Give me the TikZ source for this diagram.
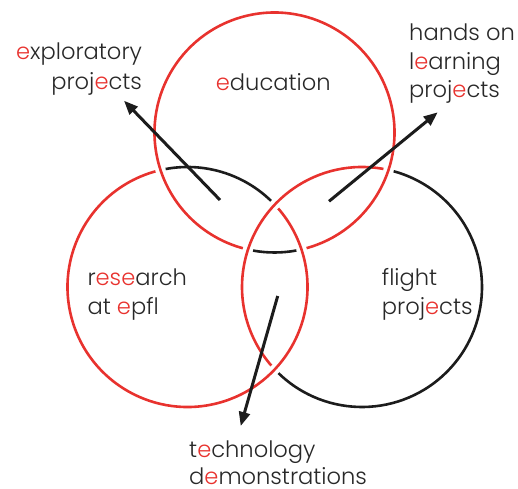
\documentclass[tikz,border=0pt]{standalone}
\usepackage{fontspec}
\setmainfont{Poppins}[UprightFont={* Light}]
\usetikzlibrary{arrows.meta}

\definecolor{ringred}{RGB}{232,50,46}
\definecolor{ringblack}{RGB}{28,28,28}
\definecolor{inkgray}{RGB}{40,40,40}
\newcommand{\hl}[1]{\textcolor{ringred}{#1}}

\begin{document}
\begin{tikzpicture}[x=1pt,y=1pt,
  ringpart/.style={line width=2.6pt},
  redpart/.style={ringpart, draw=ringred},
  blackpart/.style={ringpart, draw=ringblack},
  pointer/.style={line width=3pt, draw=ringblack,
    -{Triangle[length=14pt,width=11pt]}},
  word/.style={inner sep=0pt, text=inkgray,
    font=\fontsize{22.6}{27}\selectfont}]

\useasboundingbox (0,0) rectangle (518,488);

% circle centres, radius 120
\coordinate (T) at (274.5,355.5);
\coordinate (L) at (187.5,201);
\coordinate (R) at (362,201);

% top ring: red except the short arc under the two others
\draw[redpart]   (T) ++(285.5:120) arc[start angle=285.5, end angle=614.7, radius=120];
\draw[blackpart] (T) ++(259.7:120) arc[start angle=259.7, end angle=280.5, radius=120];

% left ring: black across the top inside the top ring
\draw[blackpart] (L) ++(45.9:120)  arc[start angle=45.9,  end angle=100.5, radius=120];
\draw[redpart]   (L) ++(105.5:120) arc[start angle=105.5, end angle=400.9, radius=120];

% right ring: red on its inner left side, black outside
\draw[redpart]   (R) ++(79.7:120)  arc[start angle=79.7,  end angle=220.9, radius=120];
\draw[blackpart] (R) ++(225.9:120) arc[start angle=225.9, end angle=434.7, radius=120];

% pointer ends
\coordinate (expFrom)  at (220,288);
\coordinate (expTo)    at (124,387.3);
\coordinate (handFrom) at (329,286.7);
\coordinate (handTo)   at (437.7,375.7);
\coordinate (techFrom) at (277.7,192);
\coordinate (techTo)   at (240.7,62);

\draw[pointer] (expFrom)  -- (expTo);
\draw[pointer] (handFrom) -- (handTo);
\draw[pointer] (techFrom) -- (techTo);

% labels
\node[word, anchor=base east] (expA) at (142.2,428.5) {\hl{e}xploratory};
\node[word, anchor=base east] (expB) at (142.2,398.7) {proj\hl{e}cts};

\node[word, anchor=base] (edu) at (273.3,397.3) {\hl{e}ducation};

\node[word, anchor=base west] (handA) at (409,447)   {hands on};
\node[word, anchor=base west] (handB) at (409,418)   {l\hl{e}arning};
\node[word, anchor=base west] (handC) at (409,390.3) {proj\hl{e}cts};

\node[word, anchor=base west] (resA) at (87.3,202.3) {r\hl{ese}arch};
\node[word, anchor=base west] (resB) at (87.3,173.7) {at \hl{e}pfl};

\node[word, anchor=base west] (fliA) at (381.7,202.3) {flight};
\node[word, anchor=base west] (fliB) at (381.7,173.7) {proj\hl{e}cts};

\node[word, anchor=base west] (tecA) at (189,31) {t\hl{e}chnology};
\node[word, anchor=base west] (tecB) at (189,4)  {d\hl{e}monstrations};
\end{tikzpicture}
\end{document}
